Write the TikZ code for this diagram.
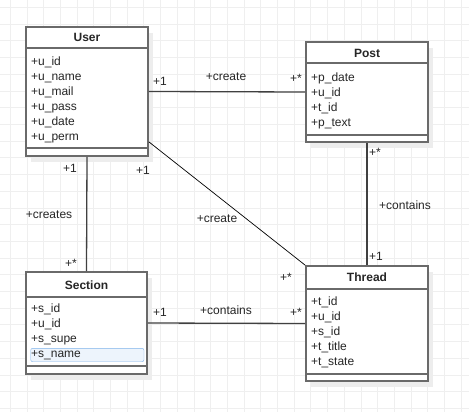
\documentclass[tikz,border=0pt]{standalone}
\usepackage{fontspec}
\setmainfont{Liberation Sans}
\usetikzlibrary{shadows}
\definecolor{boxline}{HTML}{6A6A6A}
\definecolor{gridcol}{HTML}{EFEFEF}
\definecolor{selfill}{HTML}{EDF4FC}
\definecolor{selline}{HTML}{7EB2EA}
\begin{document}
\begin{tikzpicture}
      [x=1pt,y=-1pt,every node/.style={font=\fontsize{12}{15}\selectfont, text=black!85},
       umlclass/.style={draw=boxline, line width=1.6pt, fill=white, inner sep=0pt,
         drop shadow={shadow xshift=5pt, shadow yshift=-6pt, fill=black!7, opacity=1}},
       classname/.style={font=\fontsize{12}{15}\selectfont\bfseries},
       attr/.style={anchor=west, inner sep=0pt, text height=9pt, text depth=3pt},
       mult/.style={inner sep=0pt},
       sep/.style={draw=boxline, line width=1.6pt},
       assoc/.style={draw=black!75, line width=1.3pt},
       thinassoc/.style={draw=black, line width=0.7pt}]
    \useasboundingbox[fill=white] (0,0) rectangle (469,412);
    \foreach \gx in {10,26.7,...,469} \draw[gridcol] (\gx,0) -- (\gx,412);
    \foreach \gy in {7.3,24,...,412} \draw[gridcol] (0,\gy) -- (469,\gy);

    \node[umlclass, minimum width=122pt, minimum height=129pt] (user) at (87,91.5) {};
    \node[umlclass, minimum width=122pt, minimum height=100pt] (post) at (367,92) {};
    \node[umlclass, minimum width=121pt, minimum height=102pt] (section) at (86.5,323) {};
    \node[umlclass, minimum width=122pt, minimum height=115pt] (thread) at (367,323.5) {};

    \draw[sep] ([yshift=-22pt]user.north west) -- ([yshift=-22pt]user.north east);
    \draw[sep] ([yshift=9pt]user.south west) -- ([yshift=9pt]user.south east);
    \draw[sep] ([yshift=-22pt]post.north west) -- ([yshift=-22pt]post.north east);
    \draw[sep] ([yshift=8pt]post.south west) -- ([yshift=8pt]post.south east);
    \draw[sep] ([yshift=-26pt]section.north west) -- ([yshift=-26pt]section.north east);
    \draw[sep] ([yshift=9pt]section.south west) -- ([yshift=9pt]section.south east);
    \draw[sep] ([yshift=-24pt]thread.north west) -- ([yshift=-24pt]thread.north east);
    \draw[sep] ([yshift=8pt]thread.south west) -- ([yshift=8pt]thread.south east);

    \node[classname] (usertitle) at (87,37.5) {User};
    \node[classname] (posttitle) at (367,53) {Post};
    \node[classname] (sectiontitle) at (86.5,285.5) {Section};
    \node[classname] (threadtitle) at (367,277.5) {Thread};

    % selected row
    \draw[selline, fill=selfill, rounded corners=2pt] (30.7,348.3) rectangle (144,361.7);

    \foreach \t [count=\i from 0] in {u\_id, u\_name, u\_mail, u\_pass, u\_date, u\_perm}
      \node[attr] (ua\i) at (31,62.2+15*\i) {+\t};
    \foreach \t [count=\i from 0] in {p\_date, u\_id, t\_id, p\_text}
      \node[attr] (pa\i) at (311,78.8+15*\i) {+\t};
    \foreach \t [count=\i from 0] in {s\_id, u\_id, s\_supe, s\_name}
      \node[attr] (sa\i) at (31,309.8+15*\i) {+\t};
    \foreach \t [count=\i from 0] in {t\_id, u\_id, s\_id, t\_title, t\_state}
      \node[attr] (ta\i) at (311,302.2+15*\i) {+\t};

    \draw[assoc] (user.east) -- (post.west);
    \draw[assoc] (user.south) -- (section.north);
    \draw[thinassoc] ([yshift=15pt]user.south east) -- (thread.north west);
    \draw[assoc] (post.south) -- (thread.north);
    \draw[assoc] (section.east) -- (thread.west);

    \node[mult] (m1) at (160,81) {+1};
    \node[mult] (m2) at (226,77) {+create};
    \node[mult] (m3) at (296,78) {+*};
    \node[mult] (m4) at (70,168.5) {+1};
    \node[mult] (m5) at (49,215) {+creates};
    \node[mult] (m6) at (71,263.5) {+*};
    \node[mult] (m7) at (143,170) {+1};
    \node[mult] (m8) at (217,219) {+create};
    \node[mult] (m9) at (286,277.5) {+*};
    \node[mult] (m10) at (375,152.5) {+*};
    \node[mult] (m11) at (405,205) {+contains};
    \node[mult] (m12) at (376,256) {+1};
    \node[mult] (m13) at (160,312) {+1};
    \node[mult] (m14) at (226,310) {+contains};
    \node[mult] (m15) at (296,312) {+*};
  \end{tikzpicture}
\end{document}
